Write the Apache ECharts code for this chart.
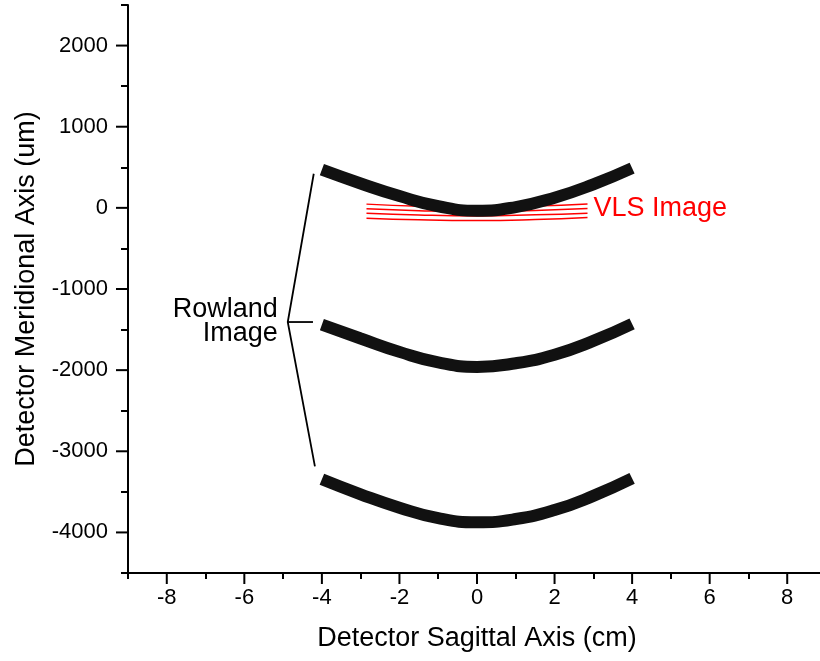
<!DOCTYPE html>
<html>
<head>
<meta charset="utf-8">
<script src="https://cdn.jsdelivr.net/npm/echarts@6/dist/echarts.min.js"></script>
<style>
  html, body { margin: 0; padding: 0; background: #fff; }
  #chart { width: 820px; height: 661px; }
</style>
</head>
<body>
<div id="chart"></div>
<script>
const bandX = [-4, -3, -2, -1, 0, 1, 2, 3, 4]
// band centres (um)
const rowlandTop = [470, 300, 145, 20, -35, 10, 125, 290, 490]
const rowlandMid = [-1440, -1610, -1775, -1905, -1960, -1915, -1810, -1640, -1430]
const rowlandLow = [-3345, -3530, -3695, -3825, -3875, -3835, -3725, -3550, -3335]

// VLS image lines
const vlsX = [-2.85, -1.5, 0, 1.5, 2.85]
const vls1 = [46, 20, 8, 22, 49]
const vls2 = [-12, -35, -46, -32, -9]
const vls3 = [-65, -88, -99, -86, -65]
const vls4 = [-127, -148, -157, -145, -120]

// bracket pointing at the three Rowland bands
const bracketX = [-4.21, -4.88, -4.18]
const bracketY = [420, -1407, -3185]
const bracketTickX = [-4.88, -4.23]
const bracketTickY = [-1407, -1407]

// axis ticks
const xMin = -9, xMax = 9, yMin = -4500, yMax = 2500
const xMajor = [-8, -6, -4, -2, 0, 2, 4, 6, 8]
const xMinor = [-9, -7, -5, -3, -1, 1, 3, 5, 7, 9]
const yMajor = [-4000, -3000, -2000, -1000, 0, 1000, 2000]
const yMinor = [-4500, -3500, -2500, -1500, -500, 500, 1500, 2500]

const font = "'Liberation Sans', Arial, sans-serif"

function pairs(xs, ys) {
  return xs.map((x, i) => [x, ys[i]])
}

function band(ys) {
  return {
    type: 'line',
    data: pairs(bandX, ys),
    smooth: true,
    symbol: 'none',
    lineStyle: { color: '#111', width: 12, cap: 'butt' },
    z: 3
  }
}

function vls(ys, withLabel) {
  const data = pairs(vlsX, ys)
  const s = {
    type: 'line',
    data,
    smooth: true,
    symbol: 'none',
    lineStyle: { color: '#ff0000', width: 1.5 },
    z: 2
  }
  if (withLabel) {
    s.markPoint = {
      symbol: 'circle',
      symbolSize: 0,
      data: [{ coord: data[data.length - 1] }],
      label: {
        show: true,
        position: 'right',
        distance: 6,
        formatter: 'VLS Image',
        color: '#ff0000',
        fontSize: 27,
        fontFamily: font
      }
    }
  }
  return s
}

// long ticks: short strokes hanging off the axis line, placed through the axis scales
function majorTicks(data, dx, dy) {
  return {
    type: 'custom',
    data,
    clip: false,
    silent: true,
    z: 10,
    renderItem: (params, api) => {
      const p = api.coord([api.value(0), api.value(1)])
      return {
        type: 'line',
        shape: { x1: p[0], y1: p[1], x2: p[0] + dx, y2: p[1] + dy },
        style: { stroke: '#000', lineWidth: 2 }
      }
    }
  }
}

function xAxisOf(extra) {
  return Object.assign({
    type: 'value',
    min: xMin,
    max: xMax,
    position: 'bottom',
    axisLine: { show: false, onZero: false },
    axisTick: { show: false },
    axisLabel: { show: false },
    splitLine: { show: false }
  }, extra)
}

function yAxisOf(extra) {
  return Object.assign({
    type: 'value',
    min: yMin,
    max: yMax,
    position: 'left',
    axisLine: { show: false, onZero: false },
    axisTick: { show: false },
    axisLabel: { show: false },
    splitLine: { show: false }
  }, extra)
}

const chart = echarts.init(document.getElementById('chart'))
chart.setOption({
  backgroundColor: '#fff',
  animation: false,
  grid: { left: 128, width: 698, top: 5, bottom: 88, outerBoundsMode: 'none', containLabel: false },
  xAxis: [
    xAxisOf({
      interval: 1,
      name: 'Detector Sagittal Axis (cm)',
      nameLocation: 'middle',
      nameGap: 52,
      nameTextStyle: { fontSize: 27, color: '#000', fontFamily: font },
      axisLine: { show: true, onZero: false, lineStyle: { color: '#000', width: 2 } },
      axisLabel: {
        show: true, margin: 14, fontSize: 22, color: '#000', fontFamily: font,
        formatter: v => (xMajor.indexOf(v) >= 0 ? String(v) : '')
      }
    }),
    xAxisOf({ axisTick: { show: true, customValues: xMinor.slice(), length: 6, lineStyle: { color: '#000', width: 2 } } })
  ],
  yAxis: [
    yAxisOf({
      interval: 500,
      name: 'Detector Meridional Axis (um)',
      nameLocation: 'middle',
      nameGap: 88,
      nameTextStyle: { fontSize: 27, color: '#000', fontFamily: font },
      axisLine: { show: true, onZero: false, lineStyle: { color: '#000', width: 2 } },
      axisLabel: {
        show: true, margin: 20, fontSize: 22, color: '#000', fontFamily: font,
        formatter: v => (yMajor.indexOf(v) >= 0 ? String(v) : '')
      }
    }),
    yAxisOf({ axisTick: { show: true, customValues: yMinor.slice(), length: 7, lineStyle: { color: '#000', width: 2 } } })
  ],
  series: [
    vls(vls1, false),
    vls(vls2, true),
    vls(vls3, false),
    vls(vls4, false),
    band(rowlandTop),
    band(rowlandMid),
    band(rowlandLow),
    majorTicks(xMajor.map(x => [x, yMin]), 0, 11),
    majorTicks(yMajor.map(y => [xMin, y]), -12, 0),
    {
      type: 'line',
      data: pairs(bracketX, bracketY),
      symbol: 'none',
      lineStyle: { color: '#000', width: 1.8 },
      z: 4
    },
    {
      type: 'line',
      data: pairs(bracketTickX, bracketTickY),
      symbol: 'none',
      lineStyle: { color: '#000', width: 1.8 },
      z: 4,
      markPoint: {
        symbol: 'circle',
        symbolSize: 0,
        data: [{ coord: [bracketTickX[0], bracketTickY[0]] }],
        label: {
          show: true,
          position: 'left',
          distance: 10,
          formatter: 'Rowland\nImage',
          align: 'right',
          lineHeight: 24,
          color: '#000',
          fontSize: 27,
          fontFamily: font
        }
      }
    }
  ]
})
</script>
</body>
</html>
